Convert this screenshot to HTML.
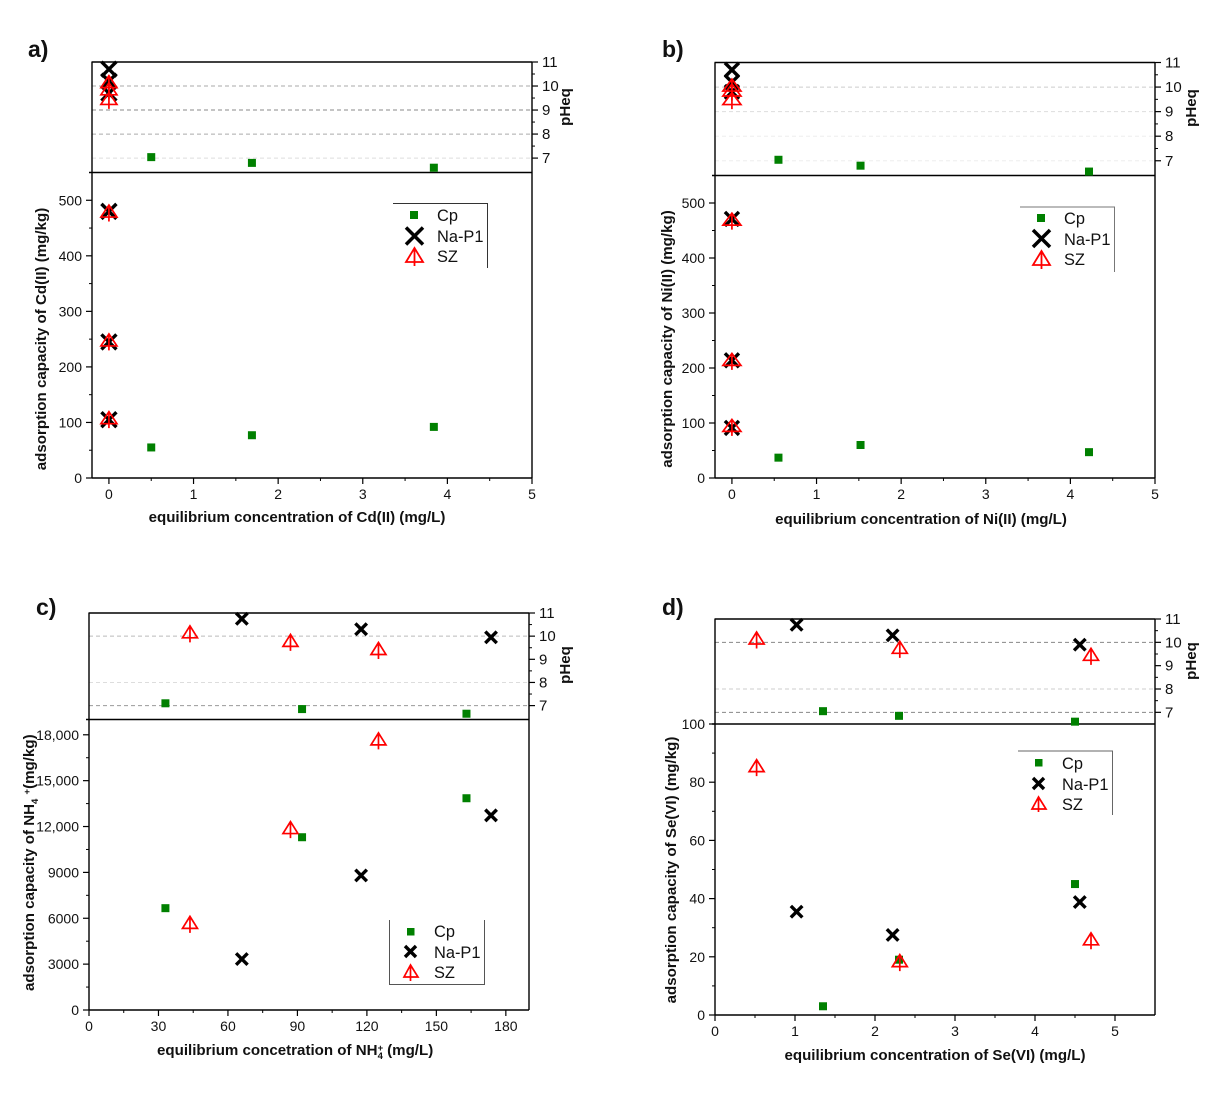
<!DOCTYPE html>
<html lang="en">
<head>
<meta charset="utf-8">
<title>Adsorption capacity and equilibrium pH charts</title>
<style>
html,body{margin:0;padding:0;background:#fff;}
svg{display:block;font-family:"Liberation Sans",Arial,sans-serif;fill:#111;}
.tick{font-size:14px;}
.ph-tick{font-size:15px;}
.title{font-size:15.1px;font-weight:bold;}
.lab{font-size:23px;font-weight:bold;}
.leg{font-size:16.4px;}
</style>
</head>
<body>
<svg id="figure" width="1217" height="1110" viewBox="0 0 1217 1110" xmlns="http://www.w3.org/2000/svg">
  <rect width="1217" height="1110" fill="#fff"/>

  <g id="panel-a">
    <text class="lab" x="28" y="57">a)</text>
    <text class="title" x="297" y="522" text-anchor="middle">equilibrium concentration of Cd(II) (mg/L)</text>
    <text class="title" transform="translate(46 339) rotate(-90)" text-anchor="middle">adsorption capacity of Cd(II) (mg/kg)</text>
    <text class="title" transform="translate(570 107) rotate(-90)" text-anchor="middle">pHeq</text>
    <g>
      <path d="M393 203.5H487.5V268" fill="none" stroke="#333" stroke-width="1"/>
      <rect x="410" y="211" width="8" height="8" fill="#008000"/>
      <path d="M406 227.500L423 244.500M423 227.500L406 244.500" stroke="#000" stroke-width="3.5" fill="none"/>
      <path d="M414.500 248L406 262H423ZM414.500 248V266" stroke="#f00" stroke-width="1.800" fill="none"/>
      <text class="leg" x="437" y="221">Cp</text>
      <text class="leg" x="437" y="242">Na-P1</text>
      <text class="leg" x="437" y="262">SZ</text>
    </g>
  </g>

  <g id="panel-b">
    <text class="lab" x="662" y="57">b)</text>
    <text class="title" x="921" y="524" text-anchor="middle">equilibrium concentration of Ni(II) (mg/L)</text>
    <text class="title" transform="translate(672 339) rotate(-90)" text-anchor="middle">adsorption capacity of Ni(II) (mg/kg)</text>
    <text class="title" transform="translate(1196 108) rotate(-90)" text-anchor="middle">pHeq</text>
    <g>
      <path d="M1020 207H1114.500V272" fill="none" stroke="#777" stroke-width="1"/>
      <rect x="1037" y="214" width="8" height="8" fill="#008000"/>
      <path d="M1033 230L1050 247M1050 230L1033 247" stroke="#000" stroke-width="3.5" fill="none"/>
      <path d="M1041.500 251L1033 265H1050ZM1041.500 251V269" stroke="#f00" stroke-width="1.800" fill="none"/>
      <text class="leg" x="1064" y="224">Cp</text>
      <text class="leg" x="1064" y="245">Na-P1</text>
      <text class="leg" x="1064" y="265">SZ</text>
    </g>
  </g>

  <g id="panel-c">
    <text class="lab" x="36" y="615">c)</text>
    <text class="title" x="157" y="1055">equilibrium concetration of NH<tspan font-size="9.5" dy="-4">+</tspan><tspan font-size="9.5" dx="-5.500" dy="8">4</tspan><tspan dy="-4"> (mg/L)</tspan></text>
    <text class="title" transform="translate(34 991) rotate(-90)">adsorption capacity of NH<tspan font-size="9.5" dy="4">4</tspan><tspan dy="-4"> </tspan><tspan font-size="9.5" dy="-4">+</tspan><tspan dy="4">(mg/kg)</tspan></text>
    <text class="title" transform="translate(570 665) rotate(-90)" text-anchor="middle">pHeq</text>
    <g>
      <path d="M389.500 920V984.500H484.500V920" fill="none" stroke="#555" stroke-width="1"/>
      <rect x="407" y="928" width="7.500" height="7.500" fill="#008000"/>
      <path d="M405 946L416 957M416 946L405 957" stroke="#000" stroke-width="3.4" fill="none"/>
      <path d="M410.500 965L404 977H418ZM410.500 965V981" stroke="#f00" stroke-width="1.700" fill="none"/>
      <text class="leg" x="434" y="937">Cp</text>
      <text class="leg" x="434" y="958">Na-P1</text>
      <text class="leg" x="434" y="978">SZ</text>
    </g>
  </g>

  <g id="panel-d">
    <text class="lab" x="662" y="615">d)</text>
    <text class="title" x="935" y="1060" text-anchor="middle">equilibrium concentration of Se(VI) (mg/L)</text>
    <text class="title" transform="translate(676 870) rotate(-90)" text-anchor="middle">adsorption capacity of Se(VI) (mg/kg)</text>
    <text class="title" transform="translate(1196 661) rotate(-90)" text-anchor="middle">pHeq</text>
    <g>
      <path d="M1018 751H1112.500V815" fill="none" stroke="#666" stroke-width="1"/>
      <rect x="1035" y="759" width="7.500" height="7.500" fill="#008000"/>
      <path d="M1033 778L1044 789M1044 778L1033 789" stroke="#000" stroke-width="3.4" fill="none"/>
      <path d="M1038.500 797L1032 809H1046ZM1038.500 797V812" stroke="#f00" stroke-width="1.700" fill="none"/>
      <text class="leg" x="1062" y="769">Cp</text>
      <text class="leg" x="1062" y="790">Na-P1</text>
      <text class="leg" x="1062" y="810">SZ</text>
    </g>
  </g>
</svg>

<script>
// ---------- Panel a data ----------
const aCpConc = [0.5, 1.69, 3.84];
const aCpPh = [7.04, 6.8, 6.6];
const aCpCapacity = [55, 77, 92];
const aNaConc = [0, 0, 0];
const aNaPh = [10.7, 10.2, 9.7];
const aNaCapacity = [480, 245, 105];
const aSzConc = [0, 0, 0];
const aSzPh = [10.1, 9.8, 9.4];
const aSzCapacity = [477, 245, 105];
const aXTicks = [0, 1, 2, 3, 4, 5];
const aYTicks = [0, 100, 200, 300, 400, 500];
const aYLabels = ['0', '100', '200', '300', '400', '500'];

// ---------- Panel b data ----------
const bCpConc = [0.55, 1.52, 4.22];
const bCpPh = [7.04, 6.8, 6.56];
const bCpCapacity = [37, 60, 47];
const bNaConc = [0, 0, 0];
const bNaPh = [10.7, 10.2, 9.8];
const bNaCapacity = [471, 214, 91];
const bSzConc = [0, 0, 0];
const bSzPh = [10.0, 9.8, 9.45];
const bSzCapacity = [467, 212, 92];
const bXTicks = [0, 1, 2, 3, 4, 5];
const bYTicks = [0, 100, 200, 300, 400, 500];
const bYLabels = ['0', '100', '200', '300', '400', '500'];

// ---------- Panel c data ----------
const cCpConc = [33, 92, 163];
const cCpPh = [7.1, 6.85, 6.65];
const cCpCapacity = [6660, 11300, 13850];
const cNaConc = [66, 117.5, 173.6];
const cNaPh = [10.75, 10.3, 9.95];
const cNaCapacity = [3330, 8800, 12730];
const cSzConc = [43.6, 87, 125];
const cSzPh = [10.1, 9.73, 9.38];
const cSzCapacity = [5600, 11800, 17600];
const cXTicks = [0, 30, 60, 90, 120, 150, 180];
const cYTicks = [0, 3000, 6000, 9000, 12000, 15000, 18000];
const cYLabels = ['0', '3000', '6000', '9000', '12,000', '15,000', '18,000'];

// ---------- Panel d data ----------
const dCpConc = [1.35, 2.3, 4.5];
const dCpPh = [7.05, 6.85, 6.6];
const dCpCapacity = [3, 19, 45];
const dNaConc = [1.02, 2.22, 4.56];
const dNaPh = [10.75, 10.3, 9.9];
const dNaCapacity = [35.5, 27.5, 38.8];
const dSzConc = [0.52, 2.31, 4.7];
const dSzPh = [10.1, 9.7, 9.4];
const dSzCapacity = [85, 18, 25.5];
const dXTicks = [0, 1, 2, 3, 4, 5];
const dYTicks = [0, 20, 40, 60, 80, 100];
const dYLabels = ['0', '20', '40', '60', '80', '100'];

// ---------- Shared pH axis ----------
const phTicks = [7, 8, 9, 10, 11];
const phLabels = ['7', '8', '9', '10', '11'];

const SVG_NS = 'http://www.w3.org/2000/svg';

function node(tag, parent, attrs) {
  const el = document.createElementNS(SVG_NS, tag);
  for (const key in attrs) {
    el.setAttribute(key, attrs[key]);
  }
  parent.appendChild(el);
  return el;
}

function axisLine(parent, name, x1, y1, x2, y2, width) {
  const el = node('line', parent, {x1: x1, y1: y1, x2: x2, y2: y2, stroke: '#000', 'stroke-width': width});
  
  
  return el;
}

function tickLabel(parent, name, x, y, anchor, cls, content) {
  const el = node('text', parent, {x: x, y: y, 'text-anchor': anchor, class: cls});
  
  
  el.textContent = content;
  return el;
}

function squareMark(parent, name, cx, cy) {
  const el = node('rect', parent, {x: cx - 4, y: cy - 4, width: 8, height: 8, fill: '#008000'});
  
  
  return el;
}

function crossMark(parent, name, cx, cy, size) {
  const r = size / 2;
  const d = 'M' + (cx - r) + ' ' + (cy - r) + 'L' + (cx + r) + ' ' + (cy + r) +
            'M' + (cx + r) + ' ' + (cy - r) + 'L' + (cx - r) + ' ' + (cy + r);
  const el = node('path', parent, {d: d, stroke: '#000', 'stroke-width': 3.4, fill: 'none'});
  
  
  return el;
}

function triangleMark(parent, name, cx, cy, size) {
  const r = size / 2;
  const d = 'M' + cx + ' ' + (cy - 8) + 'L' + (cx - r) + ' ' + (cy + 4) + 'H' + (cx + r) + 'Z' +
            'M' + cx + ' ' + (cy - 8) + 'V' + (cy + 8.5);
  const el = node('path', parent, {d: d, stroke: '#f00', 'stroke-width': 1.7, fill: 'none'});
  
  
  return el;
}

function drawPanel(p) {
  const root = document.getElementById(p.id);
  const xScale = v => p.left + (v - p.xMin) * (p.right - p.left) / (p.xMax - p.xMin);
  const qScale = v => p.bottom - v * (p.bottom - p.mid) / p.qMax;
  const phScale = v => p.top + (11 - v) * (p.mid - p.top) / (11 - p.phMin);

  // pH reference lines
  p.phGrid.forEach(function (g) {
    const el = node('line', root, {x1: p.left, x2: p.right, y1: phScale(g.ph), y2: phScale(g.ph), stroke: g.color, 'stroke-width': 1, 'stroke-dasharray': '4 3'});
    
    
  });

  // Frame
  axisLine(root, 'top-border', p.left - 0.5, p.top, p.right, p.top, 1.6);
  axisLine(root, 'panel-divider', p.left - 3, p.mid, p.right, p.mid, 1.4);
  axisLine(root, 'left-axis', p.left, p.top, p.left, p.bottom, 1.4);
  axisLine(root, 'right-axis', p.right, p.top, p.right, p.bottom, 1.4);
  axisLine(root, 'x-axis', p.left, p.bottom, p.right, p.bottom, 1.4);

  // X ticks
  p.xTicks.forEach(function (v, i) {
    const x = xScale(v);
    axisLine(root, 'x-tick', x, p.bottom, x, p.bottom + 6, 1.2);
    tickLabel(root, 'x-tick-label', x, p.bottom + 21, 'middle', 'tick', String(v));
    if (i < p.xTicks.length - 1) {
      const mid = xScale((v + p.xTicks[i + 1]) / 2);
      axisLine(root, 'x-minor-tick', mid, p.bottom, mid, p.bottom + 3, 1);
    }
  });

  // Capacity ticks
  p.yTicks.forEach(function (v, i) {
    const y = qScale(v);
    axisLine(root, 'y-tick', p.left - 6, y, p.left, y, 1.2);
    tickLabel(root, 'y-tick-label', p.left - 10, y + 5, 'end', 'tick', p.yLabels[i]);
    if (i < p.yTicks.length - 1) {
      const mid = qScale((v + p.yTicks[i + 1]) / 2);
      axisLine(root, 'y-minor-tick', p.left - 3, mid, p.left, mid, 1);
    }
  });

  // pH ticks
  phTicks.forEach(function (v, i) {
    const y = phScale(v);
    axisLine(root, 'ph-tick', p.right, y, p.right + 6, y, 1.2);
    tickLabel(root, 'ph-tick-label', p.right + 10, y + 5, 'start', 'ph-tick', phLabels[i]);
    if (i < phTicks.length - 1) {
      const mid = phScale(v + 0.5);
      axisLine(root, 'ph-minor-tick', p.right, mid, p.right + 3, mid, 1);
    }
  });

  // Series marks
  p.cpConc.forEach(function (v, i) {
    squareMark(root, 'cp-ph-point', xScale(v), phScale(p.cpPh[i]));
    squareMark(root, 'cp-capacity-point', xScale(v), qScale(p.cpCapacity[i]));
  });
  p.naConc.forEach(function (v, i) {
    crossMark(root, 'na-p1-ph-point', xScale(v), phScale(p.naPh[i]), p.crossSize);
    crossMark(root, 'na-p1-capacity-point', xScale(v), qScale(p.naCapacity[i]), p.crossSize);
  });
  p.szConc.forEach(function (v, i) {
    triangleMark(root, 'sz-ph-point', xScale(v), phScale(p.szPh[i]), p.triSize);
    triangleMark(root, 'sz-capacity-point', xScale(v), qScale(p.szCapacity[i]), p.triSize);
  });
}

drawPanel({
  id: 'panel-a', left: 92, right: 532, top: 62, mid: 172.5, bottom: 478,
  xMin: -0.2, xMax: 5, qMax: 550, phMin: 6.4, crossSize: 15, triSize: 16,
  phGrid: [{ph: 10, color: '#aaa'}, {ph: 9, color: '#888'}, {ph: 8, color: '#aaa'}, {ph: 7, color: '#ddd'}],
  xTicks: aXTicks, yTicks: aYTicks, yLabels: aYLabels,
  cpConc: aCpConc, cpPh: aCpPh, cpCapacity: aCpCapacity,
  naConc: aNaConc, naPh: aNaPh, naCapacity: aNaCapacity,
  szConc: aSzConc, szPh: aSzPh, szCapacity: aSzCapacity
});

drawPanel({
  id: 'panel-b', left: 715, right: 1155, top: 62.5, mid: 175.5, bottom: 478,
  xMin: -0.2, xMax: 5, qMax: 550, phMin: 6.4, crossSize: 14, triSize: 18,
  phGrid: [{ph: 10, color: '#ccc'}, {ph: 9, color: '#ddd'}, {ph: 8, color: '#eee'}, {ph: 7, color: '#eee'}],
  xTicks: bXTicks, yTicks: bYTicks, yLabels: bYLabels,
  cpConc: bCpConc, cpPh: bCpPh, cpCapacity: bCpCapacity,
  naConc: bNaConc, naPh: bNaPh, naCapacity: bNaCapacity,
  szConc: bSzConc, szPh: bSzPh, szCapacity: bSzCapacity
});

drawPanel({
  id: 'panel-c', left: 89, right: 529, top: 613, mid: 719.5, bottom: 1010,
  xMin: 0, xMax: 190, qMax: 19000, phMin: 6.4, crossSize: 11.5, triSize: 15,
  phGrid: [{ph: 10, color: '#bbb'}, {ph: 8, color: '#ddd'}, {ph: 7, color: '#999'}],
  xTicks: cXTicks, yTicks: cYTicks, yLabels: cYLabels,
  cpConc: cCpConc, cpPh: cCpPh, cpCapacity: cCpCapacity,
  naConc: cNaConc, naPh: cNaPh, naCapacity: cNaCapacity,
  szConc: cSzConc, szPh: cSzPh, szCapacity: cSzCapacity
});

drawPanel({
  id: 'panel-d', left: 715, right: 1155, top: 619, mid: 724, bottom: 1015,
  xMin: 0, xMax: 5.5, qMax: 100, phMin: 6.5, crossSize: 11.5, triSize: 15,
  phGrid: [{ph: 10, color: '#888'}, {ph: 8, color: '#ccc'}, {ph: 7, color: '#888'}],
  xTicks: dXTicks, yTicks: dYTicks, yLabels: dYLabels,
  cpConc: dCpConc, cpPh: dCpPh, cpCapacity: dCpCapacity,
  naConc: dNaConc, naPh: dNaPh, naCapacity: dNaCapacity,
  szConc: dSzConc, szPh: dSzPh, szCapacity: dSzCapacity
});
</script>
</body>
</html>
